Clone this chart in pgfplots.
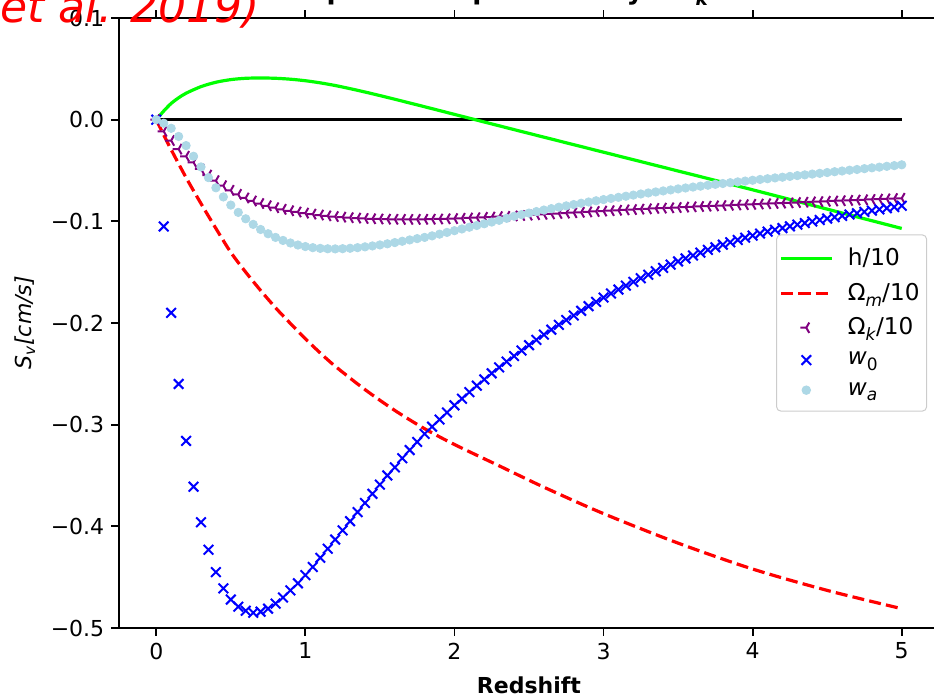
\documentclass[border=0pt]{standalone}
\usepackage{fontspec}
\setmainfont{DejaVu Sans}
\usepackage{pgfplots}
\usepackage{pgfplotstable}
\pgfplotsset{compat=1.18}
\definecolor{limeg}{RGB}{0,255,0}
\definecolor{lblue}{RGB}{173,216,230}
\definecolor{mpurple}{RGB}{128,0,128}
\pgfplotstableread{
x ok w0 wa
0.00 0.0000 0.000 0.0000
0.05 -0.0115 -0.105 -0.0035
0.10 -0.0205 -0.190 -0.0085
0.15 -0.0290 -0.260 -0.0165
0.20 -0.0360 -0.316 -0.0255
0.25 -0.0420 -0.361 -0.0360
0.30 -0.0485 -0.396 -0.0465
0.35 -0.0545 -0.423 -0.0570
0.40 -0.0600 -0.445 -0.0670
0.45 -0.0650 -0.461 -0.0760
0.50 -0.0695 -0.472 -0.0840
0.55 -0.0735 -0.479 -0.0912
0.60 -0.0770 -0.483 -0.0975
0.65 -0.0800 -0.485 -0.1030
0.70 -0.0825 -0.484 -0.1080
0.75 -0.0847 -0.481 -0.1122
0.80 -0.0866 -0.476 -0.1158
0.85 -0.0882 -0.470 -0.1188
0.90 -0.0896 -0.463 -0.1213
0.95 -0.0908 -0.456 -0.1233
1.00 -0.0919 -0.448 -0.1248
1.05 -0.0929 -0.440 -0.1259
1.10 -0.0938 -0.431 -0.1266
1.15 -0.0946 -0.422 -0.1270
1.20 -0.0953 -0.413 -0.1271
1.25 -0.0959 -0.404 -0.1269
1.30 -0.0964 -0.395 -0.1265
1.35 -0.0968 -0.386 -0.1259
1.40 -0.0972 -0.377 -0.1251
1.45 -0.0975 -0.368 -0.1242
1.50 -0.0977 -0.359 -0.1232
1.55 -0.0979 -0.350 -0.1221
1.60 -0.0980 -0.342 -0.1209
1.65 -0.0981 -0.333 -0.1196
1.70 -0.0981 -0.325 -0.1183
1.75 -0.0981 -0.317 -0.1170
1.80 -0.0980 -0.309 -0.1158
1.85 -0.0979 -0.302 -0.1143
1.90 -0.0977 -0.295 -0.1126
1.95 -0.0975 -0.288 -0.1109
2.00 -0.0973 -0.281 -0.1092
2.05 -0.0970 -0.2745 -0.1075
2.10 -0.0967 -0.2680 -0.1058
2.15 -0.0964 -0.2617 -0.1041
2.20 -0.0961 -0.2555 -0.1024
2.25 -0.0958 -0.2495 -0.1007
2.30 -0.0954 -0.2437 -0.0990
2.35 -0.0951 -0.2380 -0.0970
2.40 -0.0947 -0.2325 -0.0950
2.45 -0.0943 -0.2271 -0.0934
2.50 -0.0939 -0.2218 -0.0919
2.55 -0.0935 -0.2166 -0.0904
2.60 -0.0931 -0.2115 -0.0889
2.65 -0.0927 -0.2066 -0.0875
2.70 -0.0923 -0.2018 -0.0861
2.75 -0.0919 -0.1971 -0.0848
2.80 -0.0915 -0.1926 -0.0835
2.85 -0.0911 -0.1880 -0.0822
2.90 -0.0907 -0.1835 -0.0810
2.95 -0.0903 -0.1792 -0.0798
3.00 -0.0899 -0.1750 -0.0786
3.05 -0.0895 -0.1710 -0.0775
3.10 -0.0891 -0.1671 -0.0764
3.15 -0.0887 -0.1633 -0.0753
3.20 -0.0884 -0.1596 -0.0742
3.25 -0.0880 -0.1560 -0.0731
3.30 -0.0877 -0.1525 -0.0721
3.35 -0.0873 -0.1491 -0.0711
3.40 -0.0870 -0.1458 -0.0701
3.45 -0.0867 -0.1426 -0.0691
3.50 -0.0864 -0.1395 -0.0681
3.55 -0.0860 -0.1365 -0.0672
3.60 -0.0857 -0.1336 -0.0663
3.65 -0.0854 -0.1308 -0.0654
3.70 -0.0851 -0.1281 -0.0645
3.75 -0.0848 -0.1255 -0.0636
3.80 -0.0845 -0.1230 -0.0628
3.85 -0.0842 -0.1206 -0.0620
3.90 -0.0839 -0.1183 -0.0612
3.95 -0.0836 -0.1161 -0.0604
4.00 -0.0833 -0.1140 -0.0596
4.05 -0.0830 -0.1120 -0.0588
4.10 -0.0827 -0.1101 -0.0581
4.15 -0.0824 -0.1083 -0.0573
4.20 -0.0821 -0.1066 -0.0566
4.25 -0.0818 -0.1049 -0.0558
4.30 -0.0815 -0.1033 -0.0550
4.35 -0.0812 -0.1017 -0.0543
4.40 -0.0809 -0.1002 -0.0535
4.45 -0.0806 -0.0987 -0.0528
4.50 -0.0803 -0.0973 -0.0520
4.55 -0.0800 -0.0959 -0.0512
4.60 -0.0797 -0.0946 -0.0505
4.65 -0.0794 -0.0933 -0.0497
4.70 -0.0791 -0.0920 -0.0490
4.75 -0.0788 -0.0907 -0.0482
4.80 -0.0785 -0.0895 -0.0474
4.85 -0.0782 -0.0883 -0.0467
4.90 -0.0779 -0.0871 -0.0459
4.95 -0.0776 -0.0859 -0.0452
5.00 -0.0773 -0.0847 -0.0444
}\markers
\newcommand{\sub}[1]{\raisebox{-0.25em}{\fontsize{8.5}{9}\selectfont #1}}
\begin{document}
\begin{tikzpicture}
\begin{axis}[
  name=ax,
  scale only axis,
  width=410pt, height=305pt,
  xmin=-0.25, xmax=5.25,
  ymin=-0.5, ymax=0.1,
  axis x line=box,
  axis y line=left,
  axis line style={line width=0.9pt, -},
  every tick/.style={black, line width=0.9pt},
  major tick length=3.85pt,
  tick align=outside,
  xtick={0,1,2,3,4,5},
  xticklabels={0,1,2,3,4,5},
  ytick={-0.5,-0.4,-0.3,-0.2,-0.1,0,0.1},
  yticklabels={−0.5,−0.4,−0.3,−0.2,−0.1,0.0,0.1},
  tick label style={font=\fontsize{11}{13}\selectfont},
  xlabel={\textbf{Redshift}},
  xlabel style={font=\fontsize{11}{13}\selectfont, at={(axis description cs:0.5,-0.0934)}, anchor=center},
  ylabel={\textit{S}\textsubscript{\textit{v}}\textit{[cm/s]}},
  ylabel style={font=\fontsize{11}{13}\selectfont, at={(axis description cs:-0.1146,0.5)}, anchor=center, rotate=0},
  title={\textbf{Spectroscopic Velocity - }Ω\textsubscript{\textit{k}}≠0},
  title style={font=\bfseries\fontsize{13.2}{16}\selectfont, at={(0.5,1)}, anchor=base, yshift=3pt},
  legend image code/.code={\draw[mark repeat=2,mark phase=2,#1] plot coordinates {(0pt,0pt) (12.5pt,0pt) (25pt,0pt)}; \path (30.5pt,0pt);},
  legend style={at={(0.9854,0.5)}, anchor=east, draw=black!20, line width=0.5pt, rounded corners=2pt,
    fill=white, font=\fontsize{11.6}{13.5}\selectfont, inner xsep=1.5pt, inner ysep=4.5pt, row sep=3.2pt,
    cells={anchor=west}},
]
\addplot[black, line width=1.5pt, forget plot] coordinates {(0,0) (5,0)};
\addplot[limeg, line width=1.6pt, smooth] coordinates {
(0,0) (0.05,0.0085) (0.1,0.016) (0.15,0.0215) (0.2,0.026) (0.3,0.0325) (0.4,0.0368) (0.5,0.0394)
(0.6,0.0407) (0.7,0.0410) (0.8,0.0407) (0.9,0.0398) (1.0,0.0383) (1.1,0.0362) (1.2,0.0336)
(1.3,0.0305) (1.4,0.0272) (1.5,0.0237) (1.6,0.0201) (1.8,0.0127) (2.0,0.0052) (2.2,-0.0023)
(2.5,-0.0135) (3.0,-0.032) (3.5,-0.0505) (4.0,-0.069) (4.5,-0.088) (5.0,-0.107)};
\addlegendentry{h/10}
\addplot[red, line width=1.6pt, dash pattern=on 6pt off 2.6pt, smooth] coordinates {
(0,0) (0.05,-0.015) (0.1,-0.0295) (0.2,-0.057) (0.3,-0.0825) (0.4,-0.107) (0.5,-0.1305)
(0.6,-0.150) (0.7,-0.168) (0.8,-0.185) (0.9,-0.2005) (1.0,-0.2155) (1.1,-0.2295) (1.2,-0.2425)
(1.4,-0.2655) (1.6,-0.286) (1.8,-0.304) (2.0,-0.3195) (2.3,-0.3405) (2.6,-0.3615) (3.0,-0.3875)
(3.5,-0.4165) (4.0,-0.442) (4.5,-0.463) (5.0,-0.481)};
\addlegendentry{Ω\sub{\textit{m}}/10}
\addplot[mpurple, only marks, mark=Mercedes star, mark size=3pt, mark options={rotate=90, line width=1pt}] table[x=x, y=ok] {\markers};
\addlegendentry{Ω\sub{\textit{k}}/10}
\addplot[blue, only marks, mark=x, mark size=3.4pt, mark options={line width=1pt}] table[x=x, y=w0] {\markers};
\addlegendentry{\textit{w}\sub{0}}
\addplot[lblue, only marks, mark=*, mark size=2.1pt, mark options={draw=lblue, fill=lblue}] table[x=x, y=wa] {\markers};
\addlegendentry{\textit{w}\sub{\textit{a}}}
\end{axis}
\node[anchor=base east, red, font=\itshape\fontsize{22}{26}\selectfont] at ([xshift=74pt, yshift=-2.5pt]ax.north west) {et al. 2019)};
\pgfresetboundingbox
\useasboundingbox ([xshift=-59.5pt, yshift=-34.5pt]ax.south west) rectangle ([xshift=407.5pt, yshift=9pt]ax.north west);
\end{tikzpicture}
\end{document}
